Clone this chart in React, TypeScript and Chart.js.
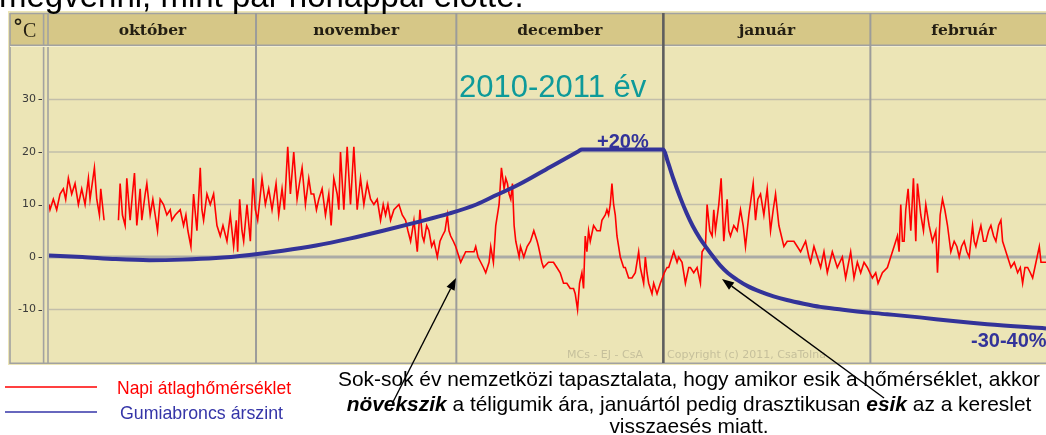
import React, { useEffect, useRef } from 'react';
import { Chart, registerables } from 'chart.js';
Chart.register(...registerables);

const W = 1046;
const H = 435;

const monthNames = ['október', 'november', 'december', 'január', 'február'];
const monthStartDays = [0, 31, 61, 92, 123];
const monthEndDays = [31, 61, 92, 123, 151];
const yTickValues = [30, 20, 10, 0, -10];
const xMaxDay = 149.3;

// daily mean temperature [day since 1 Oct, °C]
const temperaturePoints: [number, number | null][] = [
  [0, 10], [0.15, 9], [0.65, 11], [1.15, 9], [1.65, 12], [2.15, 13], [2.5, 11], [2.9, 15], [3.4, 12], [3.9, 14],
  [4.4, 10], [4.9, 13], [5.4, 10], [5.9, 15], [6.15, 11], [6.8, 17], [7.15, 11], [7.55, 8], [7.75, 13], [8.25, 7],
  [9.3, null],
  [10.4, 7], [10.65, 14], [11.0, 8], [11.4, 6], [11.65, 15], [12.15, 7], [12.5, 12], [12.8, 16], [13.15, 6], [13.65, 13],
  [13.9, 7], [14.4, 12], [14.65, 14], [15.15, 8], [15.55, 11], [15.9, 8], [16.25, 5], [16.65, 11], [17.15, 10], [17.65, 8],
  [18.15, 9], [18.4, 7], [18.9, 8], [19.65, 9], [20.15, 6], [20.5, 8], [20.8, 5], [21.25, 2], [21.65, 12], [22.15, 5],
  [22.65, 17], [22.9, 9], [23.15, 7], [23.65, 12], [24.15, 10], [24.65, 12], [25.15, 6], [25.65, 4], [26.05, 6], [26.65, 3],
  [27.15, 8], [27.65, 2], [28.05, 7], [28.25, 1], [28.55, 11], [28.9, 5], [29.15, 3], [29.65, 10], [30.15, 3], [30.55, 15],
  [30.9, 9], [31.25, 7], [31.9, 15], [32.4, 10], [32.9, 13], [33.4, 9], [34.0, 14], [34.4, 8], [34.9, 13], [35.25, 9],
  [35.75, 21], [36.15, 12], [36.65, 20], [37.15, 11], [37.5, 14], [37.9, 17], [38.4, 10], [38.9, 15], [39.25, 12], [39.65, 12],
  [40.05, 9], [40.4, 11], [40.9, 13], [41.4, 8], [41.9, 12], [42.25, 6], [42.65, 15], [43.15, 12], [43.4, 9], [43.65, 20],
  [44.15, 9], [44.65, 21], [45.15, 10], [45.65, 21], [46.15, 9], [46.65, 15], [47.15, 10], [47.65, 14], [48.15, 11], [48.65, 10],
  [49.15, 11], [49.65, 7], [50.05, 10], [50.4, 8], [50.75, 10], [51.15, 7], [51.65, 9], [52.4, 10], [52.9, 8], [53.4, 7],
  [53.75, 5], [54.15, 3], [54.65, 7], [55.15, 1], [55.55, 9], [55.9, 4], [56.15, 3], [56.55, 6], [56.9, 5], [57.3, 2],
  [57.65, 3], [58.15, 0], [58.55, 3], [58.9, 4], [59.3, 5], [59.65, 8], [59.9, 5], [60.15, 4], [60.55, 3], [60.9, 2],
  [61.4, 0], [61.65, -1], [62.4, 1], [63.15, 1], [63.65, 1], [63.9, 2], [64.25, 0], [64.65, -1], [65.05, -2], [65.4, -3],
  [65.9, -1], [66.15, 2], [66.55, -1], [66.9, 6], [67.4, 10], [67.75, 17], [68.15, 13], [68.4, 15], [68.65, 14], [68.9, 12],
  [69.15, 11], [69.4, 14], [69.65, 6], [69.9, 3], [70.4, 0], [70.6, 2], [71.1, 0], [71.6, 2], [72.1, 3], [72.6, 5],
  [73.1, 3], [73.3, 2], [73.8, -1], [74.05, -2], [74.8, -1], [75.55, -1], [76.05, -2], [76.55, -3], [77.05, -5], [77.55, -5],
  [78.05, -6], [78.55, -6], [78.8, -7], [79.15, -10], [79.45, -5], [79.8, -3], [80.05, -6], [80.3, 4], [80.55, 1], [80.8, 5],
  [81.05, 3], [81.55, 6], [82.05, 5], [82.55, 5], [82.8, 7], [83.3, 8], [83.55, 9], [83.8, 8], [84.05, 10], [84.3, 14],
  [84.55, 10], [84.8, 8], [85.05, 4], [85.55, 0], [86.05, -2], [86.3, -2], [86.8, -4], [87.3, -4], [87.8, -3], [88.3, 1],
  [88.55, -2], [89.05, -5], [89.3, 0], [89.55, -3], [89.8, -5], [90.3, -7], [90.55, -5], [90.8, -6], [91.05, -7], [91.55, -5],
  [92.15, -3], [92.55, -2], [92.8, -2], [93.3, 0], [93.55, 1], [94.05, -1], [94.3, 0], [94.8, -1], [95.3, -5], [95.8, -2],
  [96.05, -2], [96.55, -3], [97.05, -2], [97.55, -5], [97.8, 1], [98.3, 2], [98.55, 10], [98.95, 5], [99.3, 4], [99.55, 9],
  [99.8, 5], [100.3, 10], [100.65, 15], [101.05, 3], [101.55, 11], [101.8, 5], [102.05, 4], [102.55, 6], [103.05, 5], [103.55, 9],
  [103.95, 6], [104.3, 2], [104.8, 8], [105.45, 14], [105.8, 7], [106.15, 11], [106.55, 12], [107.05, 8], [107.55, 13], [108.05, 5],
  [108.45, 9], [108.8, 12], [109.3, 6], [110.05, 2], [110.55, 3], [111.05, 3], [111.55, 3], [112.05, 2], [112.55, 1], [113.3, 3],
  [113.8, 0], [114.05, -1], [114.55, 2], [115.05, 0], [115.55, -2], [116.05, 1], [116.55, -3], [117.3, 1], [117.8, -1], [118.05, -2],
  [118.8, 0], [119.3, -4], [120.05, 1], [120.55, -4], [121.05, -1], [121.55, -3], [122.05, -1], [122.55, -2], [123.3, -4], [123.8, -3],
  [124.15, -5], [124.8, -3], [125.55, -2], [126.05, 0], [126.55, 2], [127.05, 4], [127.3, 1], [127.55, 10], [127.8, 3], [128.05, 3],
  [128.3, 9], [128.65, 13], [129.05, 5], [129.45, 15], [129.8, 3], [130.05, 14], [130.55, 8], [130.95, 5], [131.3, 10], [131.8, 6],
  [132.3, 3], [132.8, 5], [133.05, -3], [133.45, 8], [133.8, 11], [134.15, 9], [134.55, 6], [135.05, 1], [135.55, 3], [135.95, 2],
  [136.3, 0], [136.65, 2], [137.05, 3], [137.45, 1], [137.8, 0], [138.3, 6], [138.55, 3], [138.8, 2], [139.15, 4], [139.55, 6],
  [139.95, 3], [140.3, 3], [140.7, 5], [141.05, 6], [141.45, 4], [141.8, 3], [142.2, 6], [142.55, 7], [142.8, 3], [143.05, 2],
  [143.55, 0], [144.05, -2], [144.55, -1], [145.05, -3], [145.45, -2], [145.8, -5], [146.15, -2], [146.55, -2], [146.95, -3], [147.3, -4],
  [147.8, -1], [148.3, 2], [148.55, -1], [149.3, -1],
];

// tyre price level (drawn on the °C scale) [day, level]
const pricePoints: [number, number][] = [
  [0, 0.3], [5, 0], [10, -0.4], [15, -0.6], [20, -0.5], [25, -0.2], [30, 0.4], [35, 1.2], [40, 2.2], [45, 3.5],
  [50, 5.0], [55, 6.6], [60, 8.3], [64, 10], [67, 11.8], [70.5, 13.9], [75, 17.1], [79.3, 20.15], [79.8, 20.5], [86, 20.5],
  [92.0, 20.5], [92.6, 18.4], [93.5, 14.9], [94.5, 11.4], [95.5, 8.3], [96.4, 5.9], [97.5, 3.5], [98.5, 1.7],
  [99.5, 0], [100.5, -1.6], [101.7, -3.1], [103.0, -4.3], [104.7, -5.6], [106.5, -6.6], [108.5, -7.5], [110.5, -8.2],
  [113, -8.9], [115.5, -9.5], [118, -9.9], [120.4, -10.3], [125.5, -10.9], [130.4, -11.5], [135.4, -12.2],
  [140.5, -12.8], [149.3, -13.6],
];

const seriesNames = ['Napi átlaghőmérséklet', 'Gumiabroncs árszint'];
const seasonLabel = '2010-2011 év';
const riseLabel = '+20%';
const fallLabel = '-30-40%';
const topLine = 'megvenni, mint pár hónappal előtte.';
const noteLine1 = 'Sok-sok év nemzetközi tapasztalata, hogy amikor esik a hőmérséklet, akkor';
const noteLine2: [string, boolean][] = [
  ['növekszik', true], [' a téligumik ára, januártól pedig drasztikusan ', false], ['esik', true], [' az a kereslet', false],
];
const noteLine3 = 'visszaesés miatt.';
const watermark1 = 'MCs - EJ - CsA';
const watermark2 = 'Copyright (c) 2011, CsaToIna';

const BODY = '#ECE5B6';
const HEAD = '#D6C787';
const SANS = '"Liberation Sans", Arial, sans-serif';
const RED = '#FF0000';
const NAVY = '#333399';

function drawArrow(ctx: CanvasRenderingContext2D, x1: number, y1: number, x2: number, y2: number) {
  const ang = Math.atan2(y2 - y1, x2 - x1);
  const len = 12;
  const hw = 4.5;
  const bx = x2 - len * Math.cos(ang);
  const by = y2 - len * Math.sin(ang);
  ctx.strokeStyle = '#000';
  ctx.lineWidth = 1.4;
  ctx.beginPath();
  ctx.moveTo(x1, y1);
  ctx.lineTo(bx, by);
  ctx.stroke();
  ctx.fillStyle = '#000';
  ctx.beginPath();
  ctx.moveTo(x2, y2);
  ctx.lineTo(bx + hw * Math.sin(ang), by - hw * Math.cos(ang));
  ctx.lineTo(bx - hw * Math.sin(ang), by + hw * Math.cos(ang));
  ctx.closePath();
  ctx.fill();
}

function scaledText(ctx: CanvasRenderingContext2D, text: string, x: number, y: number, sx: number) {
  ctx.save();
  ctx.translate(x, y);
  ctx.scale(sx, 1);
  ctx.fillText(text, 0, 0);
  ctx.restore();
}

const panelPlugin = {
  id: 'panel',
  beforeDraw(chart: any) {
    const ctx: CanvasRenderingContext2D = chart.ctx;
    const xs = chart.scales.x;
    const ys = chart.scales.y;
    const area = chart.chartArea;
    ctx.save();
    ctx.fillStyle = '#fff';
    ctx.fillRect(0, 0, W, H);
    // panel
    ctx.fillStyle = BODY;
    ctx.fillRect(8, 11, W - 8, 354);
    ctx.fillStyle = HEAD;
    ctx.fillRect(10, 13, W - 10, 32);

    // horizontal grid
    yTickValues.forEach((v) => {
      const y = ys.getPixelForValue(v);
      ctx.beginPath();
      if (v === 0) {
        ctx.strokeStyle = '#ABABA6';
        ctx.lineWidth = 3;
      } else {
        ctx.strokeStyle = '#C2BEAA';
        ctx.lineWidth = 1.5;
      }
      ctx.moveTo(area.left, y);
      ctx.lineTo(W, y);
      ctx.stroke();
    });

    // frame lines
    ctx.strokeStyle = '#A2A2A0';
    ctx.lineWidth = 1.6;
    ctx.beginPath();
    ctx.moveTo(10, 13.5); ctx.lineTo(W, 13.5);
    ctx.moveTo(10, 45.3); ctx.lineTo(W, 45.3);
    ctx.moveTo(10, 363.2); ctx.lineTo(W, 363.2);
    ctx.moveTo(10, 13); ctx.lineTo(10, 364);
    ctx.moveTo(43.6, 13); ctx.lineTo(43.6, 364);
    ctx.moveTo(48, 13); ctx.lineTo(48, 364);
    ctx.stroke();
    ctx.strokeStyle = '#F4EFD2';
    ctx.lineWidth = 1;
    ctx.beginPath();
    ctx.moveTo(10, 46.5); ctx.lineTo(W, 46.5);
    ctx.stroke();

    // month separators
    monthStartDays.forEach((d, i) => {
      if (i === 0) return;
      const x = xs.getPixelForValue(d);
      ctx.beginPath();
      if (i === 3) {
        ctx.strokeStyle = '#5E5E5E';
        ctx.lineWidth = 2.6;
      } else {
        ctx.strokeStyle = '#9C9C9A';
        ctx.lineWidth = 2;
      }
      ctx.moveTo(x, 13);
      ctx.lineTo(x, 363);
      ctx.stroke();
    });

    // month names
    ctx.fillStyle = '#231E12';
    ctx.font = 'bold 15.5px "DejaVu Serif", serif';
    ctx.textAlign = 'center';
    ctx.textBaseline = 'alphabetic';
    monthNames.forEach((m, i) => {
      const x0 = xs.getPixelForValue(monthStartDays[i]);
      const x1 = xs.getPixelForValue(monthEndDays[i]);
      ctx.fillText(m, (x0 + x1) / 2, 35);
    });

    // °C
    ctx.textAlign = 'left';
    ctx.font = 'bold 20px "DejaVu Serif", serif';
    ctx.fillText('°', 13, 34);
    ctx.font = '20px "Liberation Serif", serif';
    ctx.fillText('C', 23, 37);

    // y tick labels
    ctx.font = '11px "DejaVu Sans", sans-serif';
    ctx.fillStyle = '#3A3A3A';
    ctx.textAlign = 'right';
    ctx.textBaseline = 'middle';
    ctx.strokeStyle = '#3A3A3A';
    ctx.lineWidth = 1;
    yTickValues.forEach((v) => {
      const y = ys.getPixelForValue(v);
      ctx.fillText(String(v), 36, y);
      ctx.beginPath();
      ctx.moveTo(38.5, Math.round(y) + 0.5);
      ctx.lineTo(42, Math.round(y) + 0.5);
      ctx.stroke();
    });

    // watermark
    ctx.font = '11px "DejaVu Sans", sans-serif';
    ctx.fillStyle = '#C6C09C';
    ctx.textAlign = 'left';
    ctx.textBaseline = 'alphabetic';
    ctx.fillText(watermark1, 567, 358);
    ctx.fillText(watermark2, 667, 358);
    ctx.restore();
  },
  afterDatasetsDraw(chart: any) {
    const ctx: CanvasRenderingContext2D = chart.ctx;
    ctx.save();
    ctx.textBaseline = 'alphabetic';
    ctx.textAlign = 'left';

    // season label
    ctx.fillStyle = '#0E9A9A';
    ctx.font = `31px ${SANS}`;
    ctx.fillText(seasonLabel, 459, 97);

    ctx.fillStyle = NAVY;
    ctx.font = `bold 20px ${SANS}`;
    ctx.fillText(riseLabel, 597, 148);
    ctx.fillText(fallLabel, 971, 347);

    // top cut line
    ctx.fillStyle = '#000';
    ctx.font = `33px ${SANS}`;
    ctx.fillText(topLine, -1, 7);

    // arrows
    drawArrow(ctx, 393, 402, 456, 278);
    drawArrow(ctx, 884, 398, 722, 279);

    // legend
    ctx.lineWidth = 1.5;
    ctx.strokeStyle = RED;
    ctx.beginPath(); ctx.moveTo(5, 387); ctx.lineTo(97, 387); ctx.stroke();
    ctx.strokeStyle = '#3535A8';
    ctx.beginPath(); ctx.moveTo(5, 412); ctx.lineTo(97, 412); ctx.stroke();
    ctx.font = `19px ${SANS}`;
    ctx.fillStyle = RED;
    let w = ctx.measureText(seriesNames[0]).width;
    scaledText(ctx, seriesNames[0], 117, 394, 174 / w);
    ctx.fillStyle = '#3535A8';
    w = ctx.measureText(seriesNames[1]).width;
    scaledText(ctx, seriesNames[1], 120, 419, 163 / w);

    // note
    ctx.fillStyle = '#000';
    ctx.font = `21px ${SANS}`;
    const w1 = ctx.measureText(noteLine1).width;
    const sx = 702 / w1;
    const cx = 689;
    scaledText(ctx, noteLine1, cx - (w1 * sx) / 2, 386, sx);
    let total = 0;
    noteLine2.forEach(([t, b]) => {
      ctx.font = b ? `italic bold 21px ${SANS}` : `21px ${SANS}`;
      total += ctx.measureText(t).width;
    });
    let x = cx - (total * sx) / 2;
    noteLine2.forEach(([t, b]) => {
      ctx.font = b ? `italic bold 21px ${SANS}` : `21px ${SANS}`;
      const tw = ctx.measureText(t).width;
      scaledText(ctx, t, x, 411, sx);
      x += tw * sx;
    });
    ctx.font = `21px ${SANS}`;
    const w3 = ctx.measureText(noteLine3).width;
    scaledText(ctx, noteLine3, cx - (w3 * sx) / 2, 433, sx);
    ctx.restore();
  },
};

export default function App() {
  const ref = useRef<HTMLCanvasElement | null>(null);
  useEffect(() => {
    if (!ref.current) return;
    const chart = new Chart(ref.current, {
      type: 'line',
      data: {
        datasets: [
          {
            label: seriesNames[1],
            data: pricePoints.map(([d, v]) => ({ x: d, y: v })),
            borderColor: NAVY,
            borderWidth: 4,
            pointRadius: 0,
            cubicInterpolationMode: 'monotone',
            borderJoinStyle: 'round',
            order: 0,
          } as any,
          {
            label: seriesNames[0],
            data: temperaturePoints.map(([d, v]) => ({ x: d, y: v })),
            borderColor: RED,
            borderWidth: 1.6,
            pointRadius: 0,
            tension: 0,
            spanGaps: false,
            order: 1,
          } as any,
        ],
      },
      options: {
        animation: false,
        responsive: false,
        devicePixelRatio: 1,
        events: [],
        layout: { padding: { left: 49, top: 47, right: 0, bottom: 73 } },
        scales: {
          x: { type: 'linear', min: 0, max: xMaxDay, display: false },
          y: { min: -20, max: 40, display: false },
        },
        plugins: { legend: { display: false }, tooltip: { enabled: false } },
      },
      plugins: [panelPlugin],
    });
    return () => chart.destroy();
  }, []);
  return (
    <div style={{ position: 'fixed', left: 0, top: 0, width: W, height: H, background: '#fff', overflow: 'hidden' }}>
      <canvas ref={ref} width={W} height={H} style={{ display: 'block', width: W, height: H }} />
    </div>
  );
}
